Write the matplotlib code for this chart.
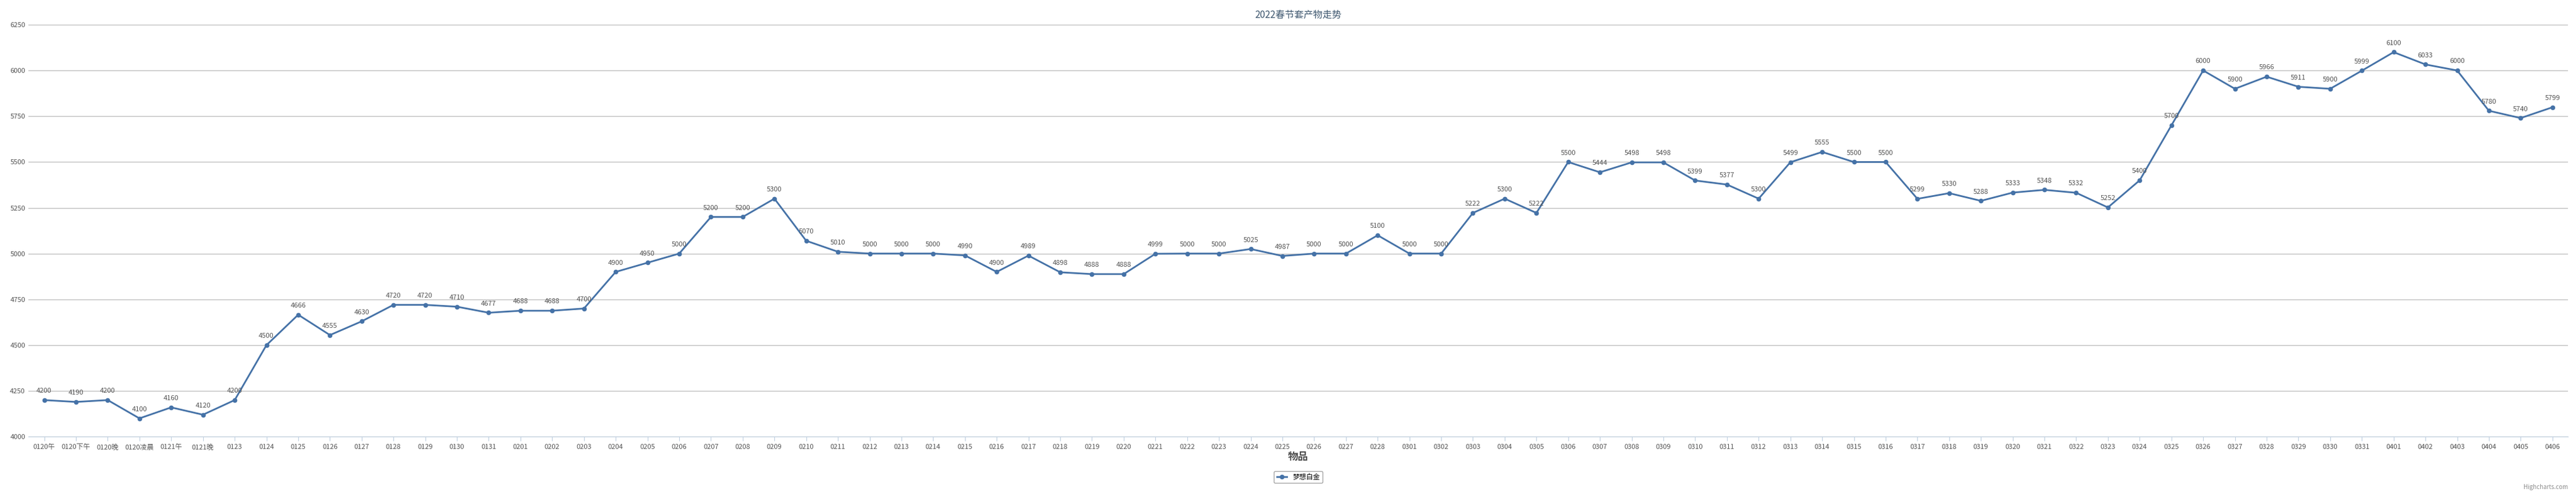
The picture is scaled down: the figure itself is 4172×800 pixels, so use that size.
import matplotlib
matplotlib.use('Agg')
import matplotlib.pyplot as plt

plt.rcParams['font.family'] = ['Noto Sans CJK SC', 'DejaVu Sans']

# categories (dates)
dates = ['0120午', '0120下午', '0120晚', '0120凌晨', '0121午', '0121晚', '0123',
         '0124', '0125', '0126', '0127', '0128', '0129', '0130', '0131']
dates += ['02%02d' % d for d in range(1, 29)]
dates += ['03%02d' % d for d in range(1, 32)]
dates += ['04%02d' % d for d in range(1, 7)]

prices = [4200, 4190, 4200, 4100, 4160, 4120, 4200,
          4500, 4666, 4555, 4630, 4720, 4720, 4710, 4677,
          4688, 4688, 4700, 4900, 4950, 5000, 5200, 5200, 5300, 5070,
          5010, 5000, 5000, 5000, 4990, 4900, 4989, 4898, 4888, 4888,
          4999, 5000, 5000, 5025, 4987, 5000, 5000, 5100,
          5000, 5000, 5222, 5300, 5222, 5500, 5444, 5498, 5498, 5399,
          5377, 5300, 5499, 5555, 5500, 5500, 5299, 5330, 5288, 5333,
          5348, 5332, 5252, 5400, 5700, 6000, 5900, 5966, 5911, 5900,
          5999, 6100, 6033, 6000, 5780, 5740, 5799]

y_ticks = [4000, 4250, 4500, 4750, 5000, 5250, 5500, 5750, 6000, 6250]

color = '#4572A7'
fig = plt.figure(figsize=(41.72, 8), dpi=100)
ax = fig.add_axes([0.011, 0.116, 0.986, 0.834])

x = list(range(len(dates)))
ax.plot(x, prices, color=color, linewidth=2, marker='o', markersize=4.5, label='梦想白金')
for xi, v in zip(x, prices):
    ax.annotate(str(v), (xi, v), xytext=(0, 7), textcoords='offset points',
                ha='center', va='bottom', fontsize=8, color='#555555')

ax.set_xlim(-0.5, len(dates) - 0.5)
ax.set_ylim(4000, 6250)
ax.set_yticks(y_ticks)
ax.set_xticks(x)
ax.set_xticklabels(dates, fontsize=8, color='#555555')
ax.tick_params(axis='y', labelsize=8, labelcolor='#555555', length=0)
ax.tick_params(axis='x', length=5, color='#C0D0E0')
ax.grid(axis='y', color='#C0C0C0', linewidth=1)
for s in ['top', 'right', 'left']:
    ax.spines[s].set_visible(False)
ax.spines['bottom'].set_color('#C0D0E0')
ax.set_axisbelow(True)

ax.set_title('2022春节套产物走势', fontsize=11, color='#3E576F', pad=8)
ax.set_xlabel('物品', fontsize=12, fontweight='bold', color='#4d4d4d', labelpad=1)

leg = ax.legend(loc='upper center', bbox_to_anchor=(0.5, -0.075), fontsize=8,
                frameon=True, edgecolor='#909090', fancybox=True, handlelength=1.5)
fig.text(0.997, 0.01, 'Highcharts.com', ha='right', fontsize=7, color='#909090')

fig.savefig('out.png', dpi=100)
